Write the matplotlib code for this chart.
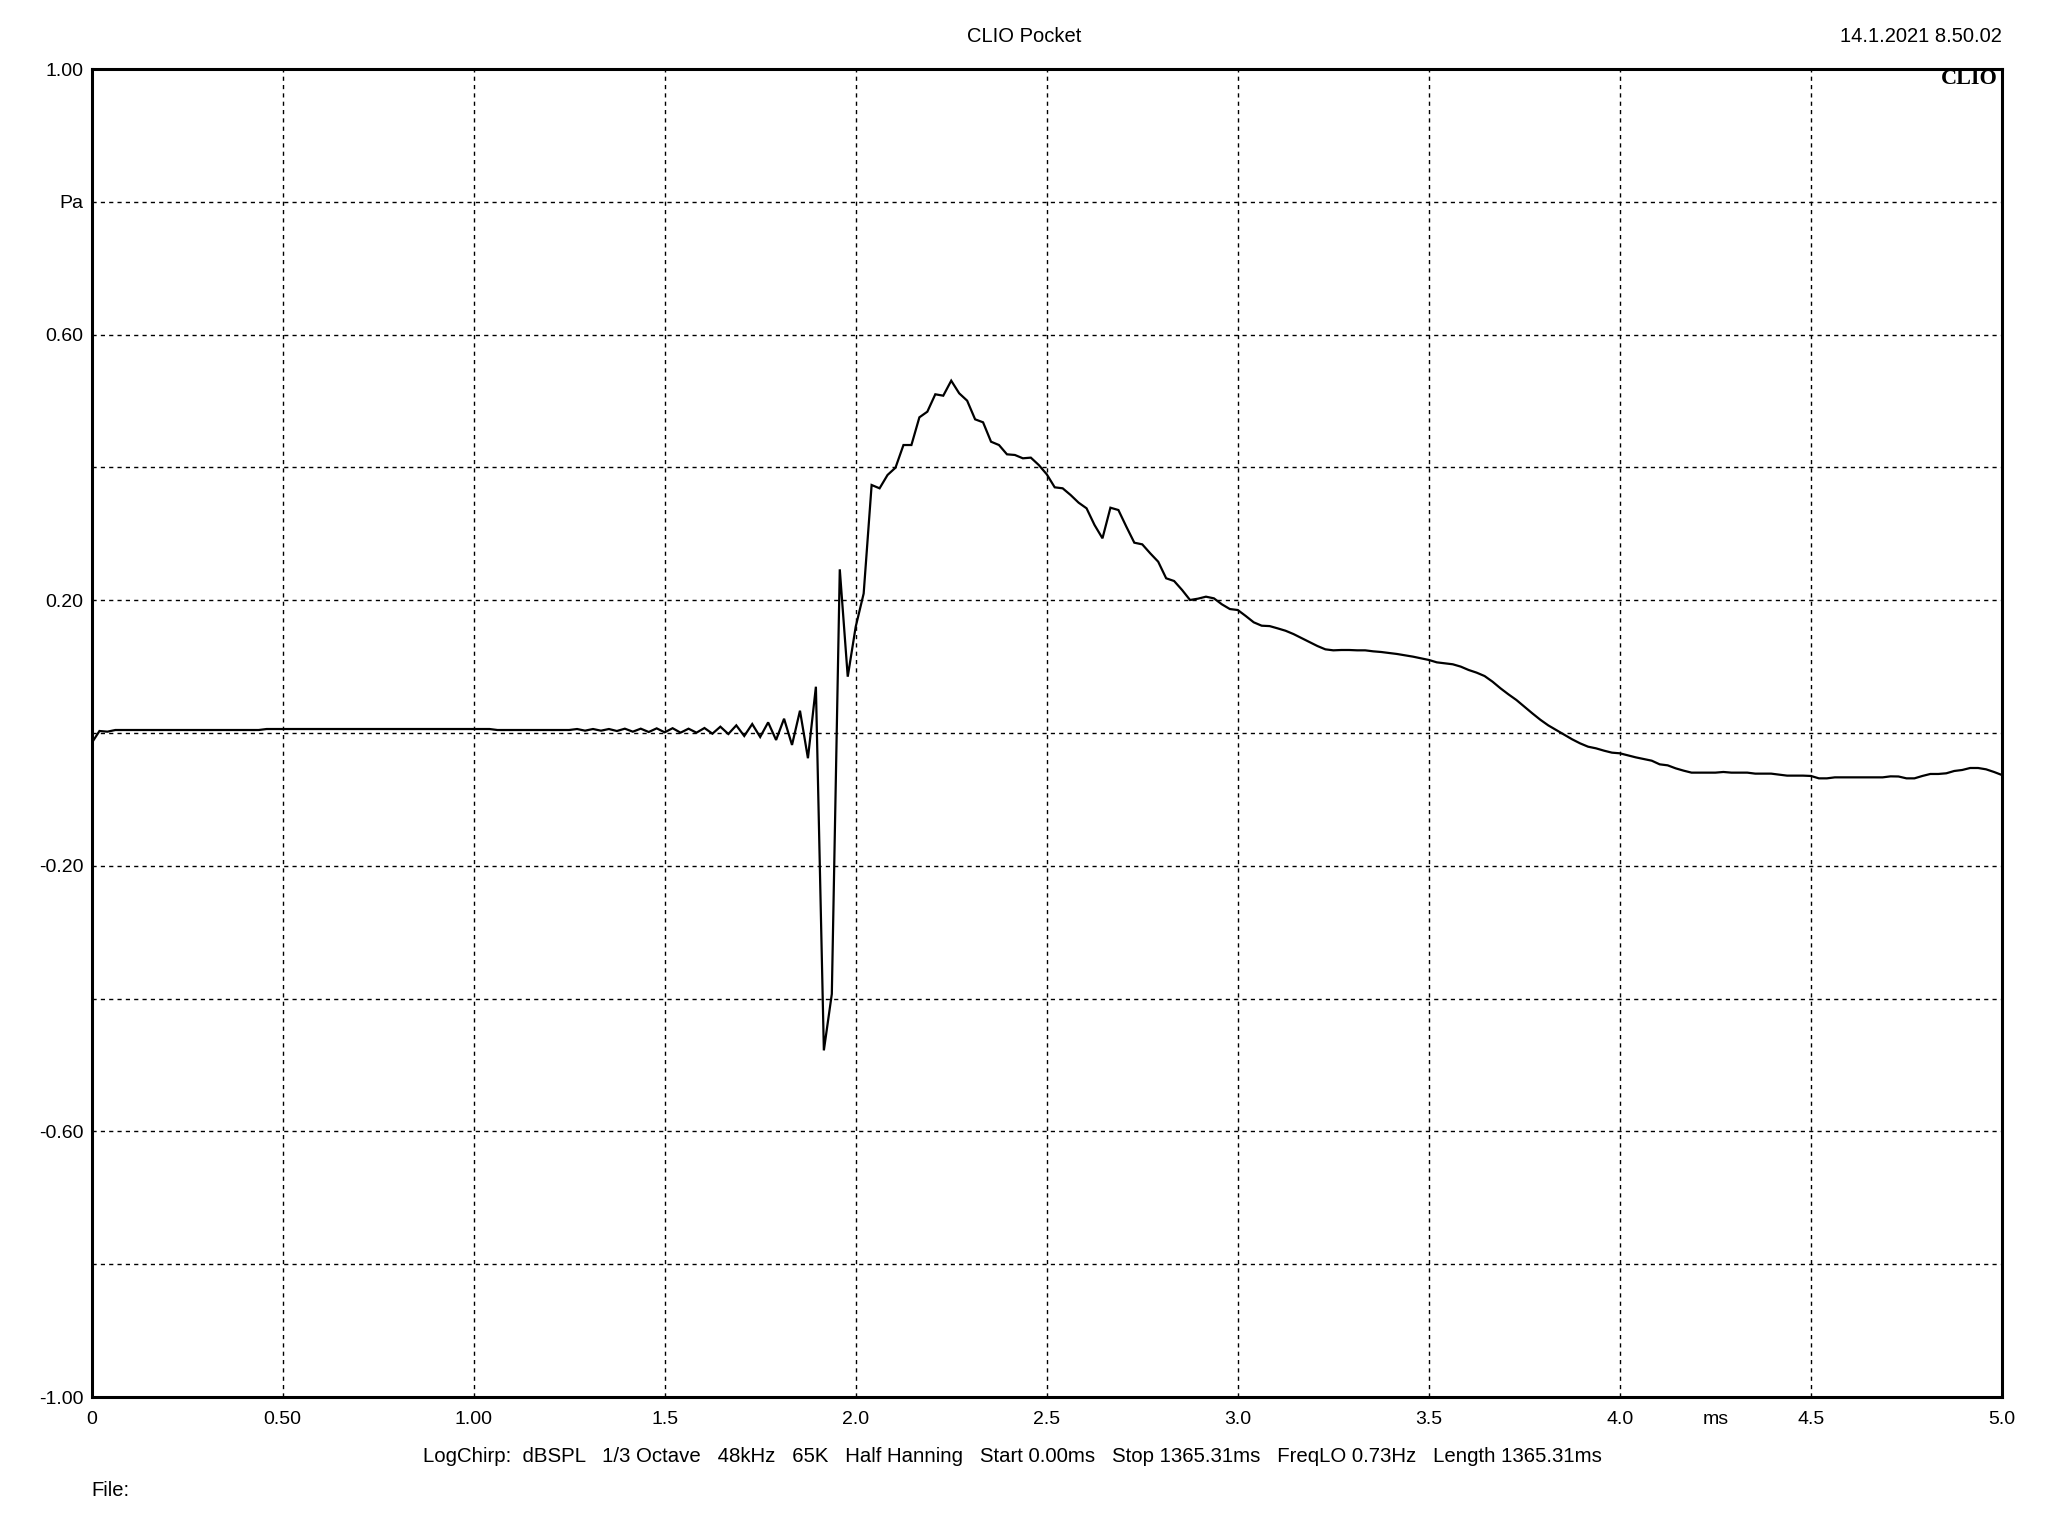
import numpy as np
import matplotlib
matplotlib.use("Agg")
import matplotlib.pyplot as plt

# ---------------- data ----------------
sample_rate_khz = 48.0  # samples per ms

# impulse response samples (Pa), one per 1/48 ms
pressure_start = [-0.0155, 0.003, 0.002]
pressure_flat = [
    0.0045, 0.0045, 0.0045, 0.0045, 0.0045, 0.0045, 0.0045, 0.0045, 0.0045, 0.0045,
    0.0045, 0.0045, 0.0045, 0.0045, 0.0045, 0.0045, 0.0045, 0.0045, 0.0045,
    0.006, 0.006, 0.006, 0.006, 0.006, 0.006, 0.006, 0.006, 0.006, 0.006,
    0.006, 0.006, 0.006, 0.006, 0.006, 0.006, 0.006, 0.006, 0.006, 0.006,
    0.006, 0.006, 0.006, 0.006, 0.006, 0.006, 0.006, 0.006, 0.006,
    0.0045, 0.0045, 0.0045, 0.0045, 0.0045, 0.0045, 0.0045, 0.0045, 0.0045,
]
pressure_ringing = [
    0.0045, 0.006, 0.0035, 0.006, 0.0035, 0.006, 0.003, 0.0065, 0.002, 0.0065,
    0.0015, 0.007, 0.001, 0.0072,
    0.0005, 0.0065, 0.0005, 0.0075, -0.001, 0.0095, -0.0015, 0.0115, -0.0045,
    0.0135, -0.006, 0.016, -0.0105, 0.0215, -0.018, 0.0336, -0.038, 0.0697,
]
pressure_main = [
    -0.478, -0.393, 0.2465, 0.0848, 0.160, 0.210, 0.3735, 0.3685, 0.3886, 0.3996,
    0.4337, 0.4337, 0.4754, 0.4839, 0.5101, 0.508, 0.5306, 0.5116, 0.5005, 0.4724,
    0.4679, 0.4387, 0.4337, 0.4197, 0.4187, 0.4137, 0.4147, 0.4036, 0.3896, 0.370,
    0.3685, 0.3584, 0.3469, 0.3384, 0.3133, 0.2932, 0.3393, 0.3358, 0.3107, 0.2866,
    0.2841, 0.2706, 0.258, 0.233, 0.2289, 0.2154, 0.2003, 0.2023, 0.2053, 0.2028,
    0.1938, 0.1867, 0.1852,
]
pressure_tail = [
    0.1762, 0.1667, 0.1616, 0.161, 0.1576, 0.154, 0.149, 0.143, 0.137, 0.131,
    0.126, 0.1245, 0.125, 0.125, 0.1245, 0.1245, 0.123, 0.122, 0.1205, 0.119,
    0.117, 0.115, 0.1125, 0.110, 0.1064, 0.105, 0.1035, 0.100, 0.0949, 0.0909,
    0.0858, 0.0773, 0.0673, 0.0582, 0.0497, 0.0396, 0.0296, 0.0200, 0.0115, 0.0045,
    -0.0025, -0.0095, -0.0156, -0.0206, -0.0231, -0.0266, -0.0296, -0.0306, -0.0336, -0.0367,
    -0.0392, -0.0417, -0.0472, -0.0487, -0.0532, -0.0567, -0.0597, -0.0597, -0.0597, -0.0597,
    -0.0587, -0.0597, -0.0597, -0.0597, -0.0612, -0.0612, -0.0612, -0.0627, -0.0642, -0.0642,
    -0.0642, -0.0647, -0.0683, -0.0683, -0.0668, -0.0668, -0.0668, -0.0668, -0.0668, -0.0668,
    -0.0668, -0.0653, -0.0655, -0.0683, -0.0683, -0.0647, -0.0617, -0.0617, -0.0607, -0.0572,
    -0.0557, -0.0527, -0.0527, -0.0547, -0.0587, -0.0633,
]
pressure = np.array(pressure_start + pressure_flat + pressure_ringing + pressure_main + pressure_tail)
time_ms = np.arange(len(pressure)) / sample_rate_khz

x_ticks = [0, 0.5, 1.0, 1.5, 2.0, 2.5, 3.0, 3.5, 4.0, 4.25, 4.5, 5.0]
x_tick_labels = ["0", "0.50", "1.00", "1.5", "2.0", "2.5", "3.0", "3.5", "4.0", "ms", "4.5", "5.0"]
y_ticks = [1.0, 0.8, 0.6, 0.4, 0.2, 0.0, -0.2, -0.4, -0.6, -0.8, -1.0]
y_tick_labels = ["1.00", "Pa", "0.60", "", "0.20", "", "-0.20", "", "-0.60", "", "-1.00"]

title = "CLIO Pocket"
date_text = "14.1.2021 8.50.02"
settings_text = ("LogChirp:  dBSPL   1/3 Octave   48kHz   65K   Half Hanning   Start 0.00ms   "
                 "Stop 1365.31ms   FreqLO 0.73Hz   Length 1365.31ms")

# ---------------- figure ----------------
plt.rcParams["font.family"] = ["Liberation Sans", "DejaVu Sans"]
W, H = 2048, 1536
fig = plt.figure(figsize=(W / 100, H / 100), dpi=100)
fig.patch.set_facecolor("white")

left, right, top, bottom = 91.5, 2002, 69, 1397
ax = fig.add_axes([left / W, 1 - bottom / H, (right - left) / W, (bottom - top) / H])

ax.plot(time_ms, pressure, color="black", lw=1.6, zorder=3, solid_joinstyle="miter")

ax.set_xlim(0, 5.0)
ax.set_ylim(-1.0, 1.0)

# grid
for gx in [0.5, 1.0, 1.5, 2.0, 2.5, 3.0, 3.5, 4.0, 4.5]:
    ax.axvline(gx, color="black", lw=1.0, ls=(0, (3, 3)), zorder=1)
for gy in [0.8, 0.6, 0.4, 0.2, 0.0, -0.2, -0.4, -0.6, -0.8]:
    ax.axhline(gy, color="black", lw=1.0, ls=(0, (3, 3)), zorder=1)

ax.set_xticks(x_ticks)
ax.set_xticklabels(x_tick_labels)
ax.set_yticks(y_ticks)
ax.set_yticklabels(y_tick_labels)
ax.tick_params(axis="both", length=0, labelsize=14, colors="black")
ax.tick_params(axis="x", pad=10)
ax.tick_params(axis="y", pad=6)

for sp in ax.spines.values():
    sp.set_linewidth(2.2)
    sp.set_color("black")

ax.text(0.998, 0.9925, "CLIO", transform=ax.transAxes, ha="right", va="center",
        fontsize=16, fontweight="bold", family="Liberation Serif")

fig.text(1024 / W, 1 - 36 / H, title, ha="center", va="center", fontsize=14.5)
fig.text(right / W, 1 - 36 / H, date_text, ha="right", va="center", fontsize=14.5)
fig.text(1012 / W, 1 - 1456 / H, settings_text, ha="center", va="center", fontsize=14.65)
fig.text(91 / W, 1 - 1490 / H, "File:", ha="left", va="center", fontsize=14.5)

fig.savefig("out.png", dpi=100, facecolor="white")
